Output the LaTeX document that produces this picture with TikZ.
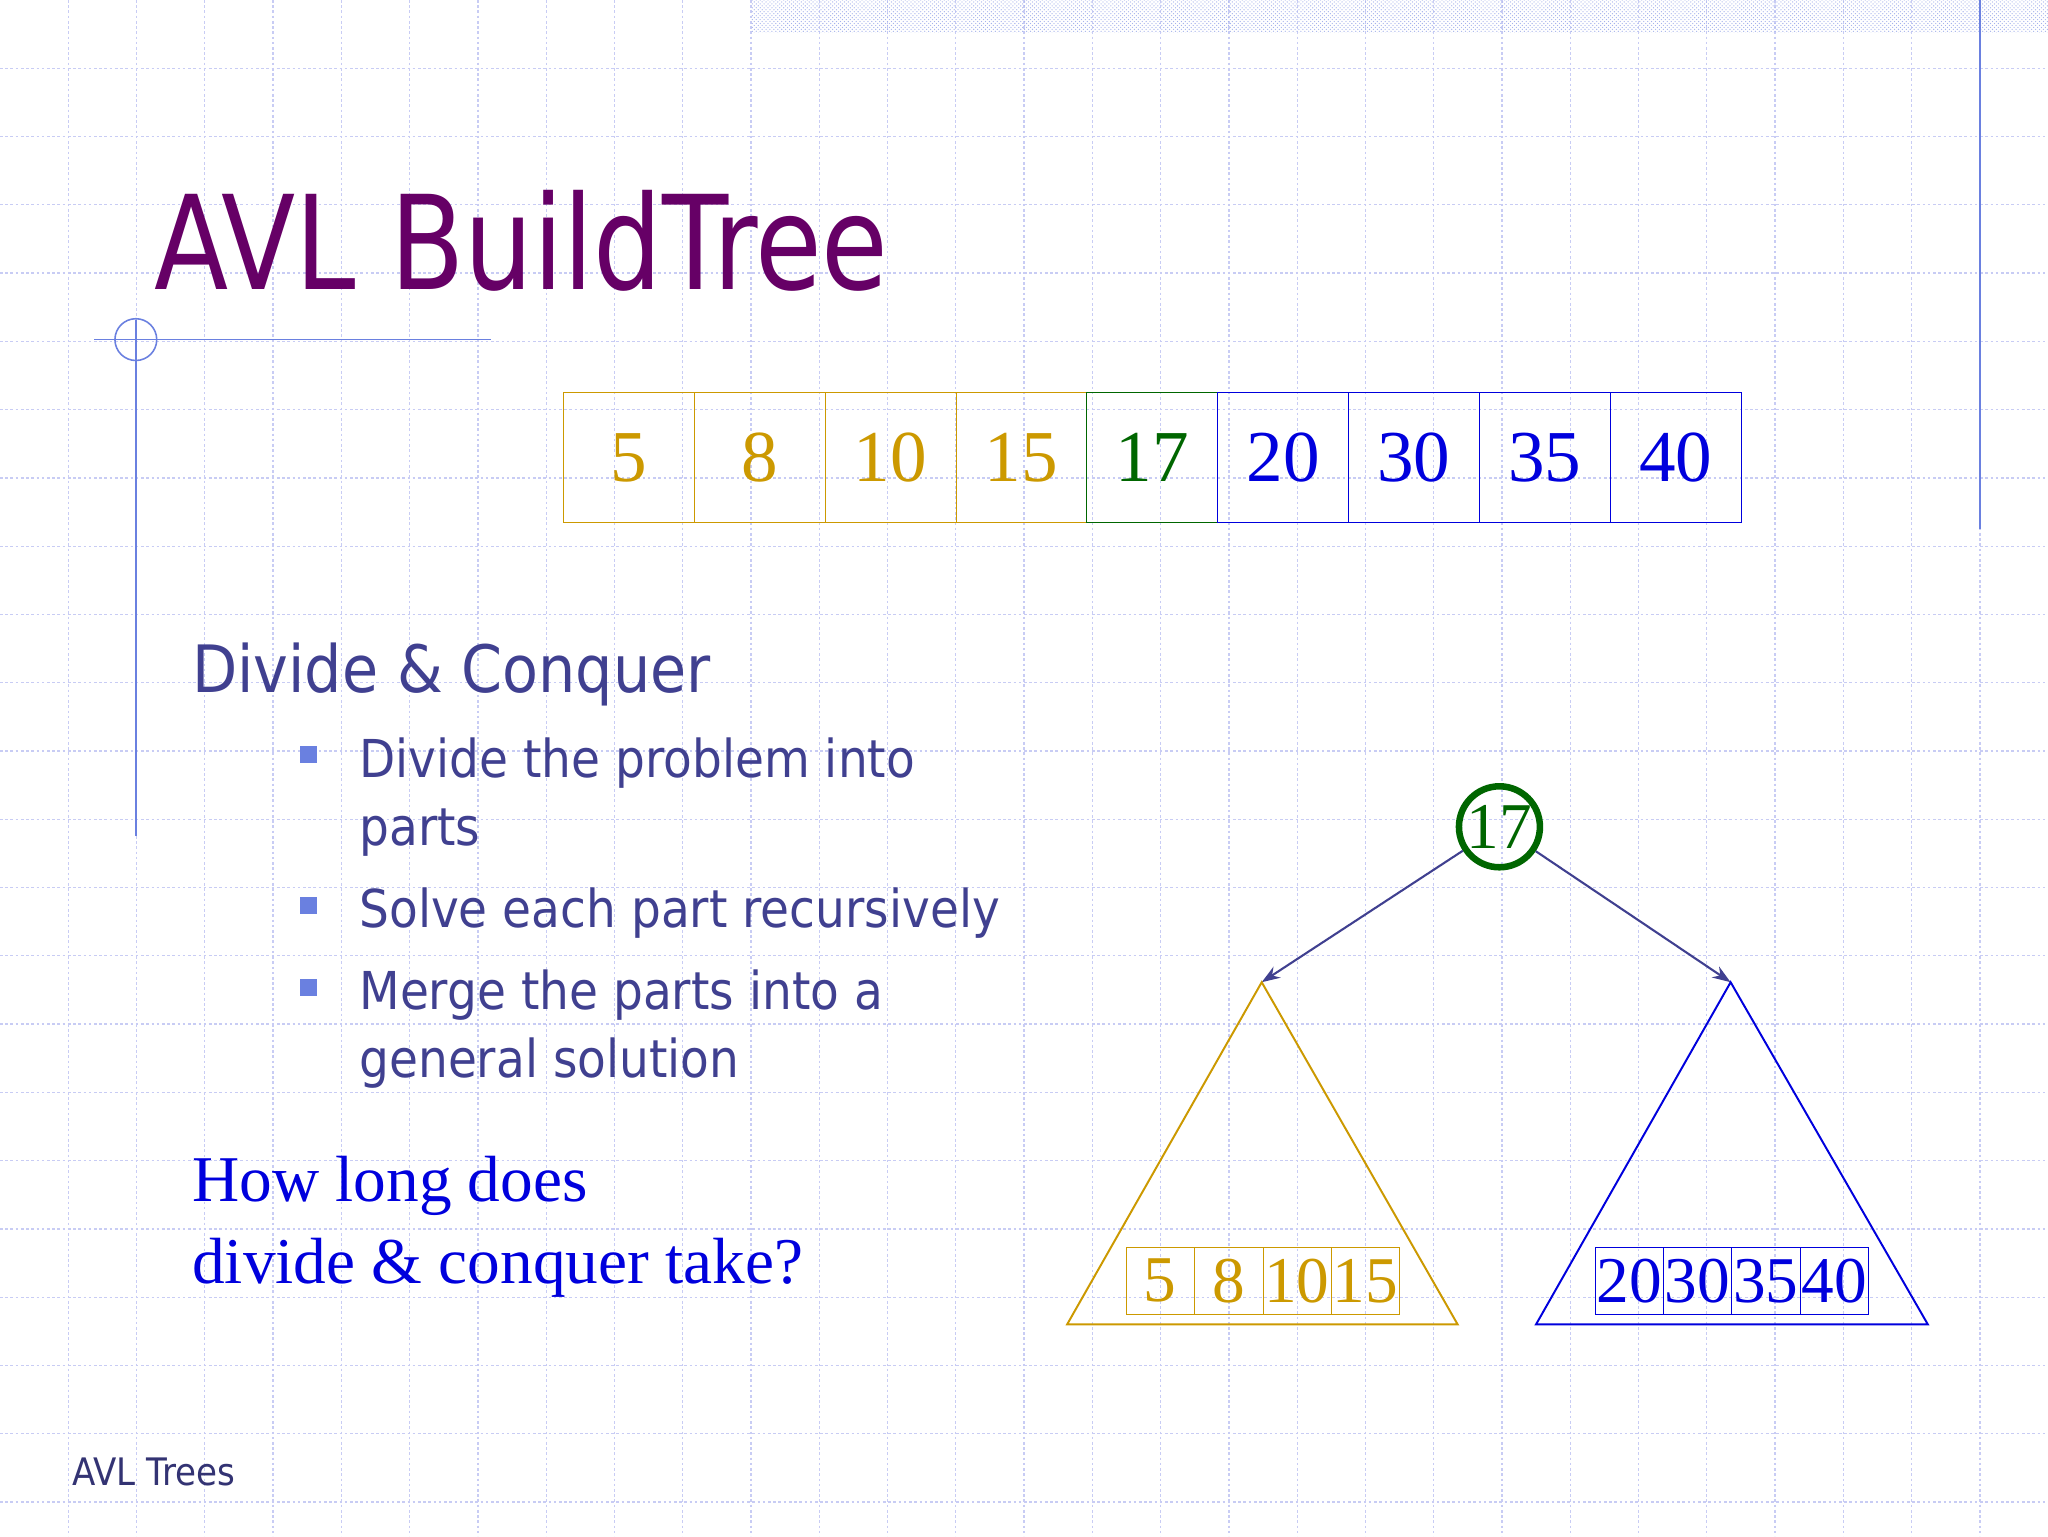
\documentclass[tikz,border=0pt]{standalone}
\usepackage{fontspec}
\setmainfont{Liberation Serif}
\newfontfamily\tah{DejaVu Sans}
\usetikzlibrary{arrows.meta,patterns}
\definecolor{gold}{HTML}{CC9900}
\definecolor{dgreen}{HTML}{006600}
\definecolor{dblue}{HTML}{0000DD}
\definecolor{slate}{HTML}{404090}
\definecolor{ttl}{HTML}{660066}
\definecolor{deco}{HTML}{6A80E0}
\definecolor{gridc}{HTML}{C8CCF4}
\begin{document}
\begin{tikzpicture}[x=1pt,y=-1pt,
  cell/.style={draw,minimum width=100.2pt,minimum height=100pt,inner sep=0pt,font=\fontsize{56}{60}\selectfont,anchor=north west},
  scell/.style={draw,minimum width=52.3pt,minimum height=51pt,inner sep=0pt,font=\fontsize{50}{54}\selectfont,anchor=north west},
  txt/.style={anchor=base west,inner sep=0pt,text=slate,font=\tah\fontsize{40}{48}\selectfont},
  bul/.style={fill=deco,minimum size=13pt,inner sep=0pt},
  arr/.style={draw=slate,line width=1.6pt,-{Stealth[length=14pt,width=10pt]}}]
\useasboundingbox (0,0) rectangle (1568,1176);
\fill[white] (0,0) rectangle (1568,1176);
\foreach \i in {1,...,30} \draw[gridc,line width=1pt,dash pattern=on 2pt off 2pt] (\i*52.27,0) -- (\i*52.27,1176);
\foreach \j in {1,...,22} \draw[gridc,line width=1pt,dash pattern=on 2pt off 2pt] (0,\j*52.27) -- (1568,\j*52.27);
\fill[pattern=crosshatch dots,pattern color=deco!60] (575,0) rectangle (1568,25);
\draw[deco,line width=1.2pt] (1516,0) -- (1516,405);
\draw[deco,line width=1.2pt] (72,260) -- (376,260);
\draw[deco,line width=1.2pt] (104,245) -- (104,640);
\draw[deco,line width=1.2pt] (104,260) circle (16);
\node[anchor=base west,inner sep=0pt,text=ttl,font=\tah\fontsize{100}{110}\selectfont] (title) at (118,222) {\scalebox{0.83}[1]{AVL BuildTree}};
% array
\foreach \v [count=\k from 0] in {5,8,10,15} \node[cell,draw=gold,text=gold] (a\k) at (431+\k*100.2,300) {\v};
\node[cell,draw=dgreen,text=dgreen] (a4) at (431+4*100.2,300) {17};
\foreach \v [count=\k from 5] in {20,30,35,40} \node[cell,draw=dblue,text=dblue] (a\k) at (431+\k*100.2,300) {\v};
% text
\node[txt,font=\tah\fontsize{50}{60}\selectfont] (dc) at (147,530) {\scalebox{0.9}[1]{Divide \& Conquer}};
\node[bul] (b1) at (236,578) {};
\node[bul] (b2) at (236,693) {};
\node[bul] (b3) at (236,756) {};
\node[txt] (t1) at (275,595) {\scalebox{0.9}[1]{Divide the problem into}};
\node[txt] (t2) at (275,647) {\scalebox{0.9}[1]{parts}};
\node[txt] (t3) at (275,710) {\scalebox{0.9}[1]{Solve each part recursively}};
\node[txt] (t4) at (275,773) {\scalebox{0.9}[1]{Merge the parts into a}};
\node[txt] (t5) at (275,825) {\scalebox{0.9}[1]{general solution}};
\node[anchor=base west,inner sep=0pt,text=dblue,font=\fontsize{50}{60}\selectfont] (q1) at (147,920) {How long does};
\node[anchor=base west,inner sep=0pt,text=dblue,font=\fontsize{50}{60}\selectfont] (q2) at (147,983) {divide \& conquer take?};
% tree
\node[circle,draw=dgreen,line width=5pt,text=dgreen,minimum size=62pt,inner sep=0pt,font=\fontsize{50}{54}\selectfont] (root) at (1148,633) {17};
\coordinate (ltop) at (966,752);
\coordinate (rtop) at (1325,752);
\draw[arr] (root) -- (ltop);
\draw[arr] (root) -- (rtop);
\draw[gold,line width=1.5pt] (ltop) -- (817,1014) -- (1116,1014) -- cycle;
\draw[dblue,line width=1.5pt] (rtop) -- (1176,1014) -- (1476,1014) -- cycle;
\foreach \v [count=\k from 0] in {5,8,10,15} \node[scell,draw=gold,text=gold] (l\k) at (862+\k*52.3,955) {\v};
\foreach \v [count=\k from 0] in {20,30,35,40} \node[scell,draw=dblue,text=dblue] (r\k) at (1221+\k*52.3,955) {\v};
\node[anchor=base west,inner sep=0pt,text=slate!80!black,font=\tah\fontsize{29}{34}\selectfont] (foot) at (55,1137) {\scalebox{0.9}[1]{AVL Trees}};
\end{tikzpicture}
\end{document}
